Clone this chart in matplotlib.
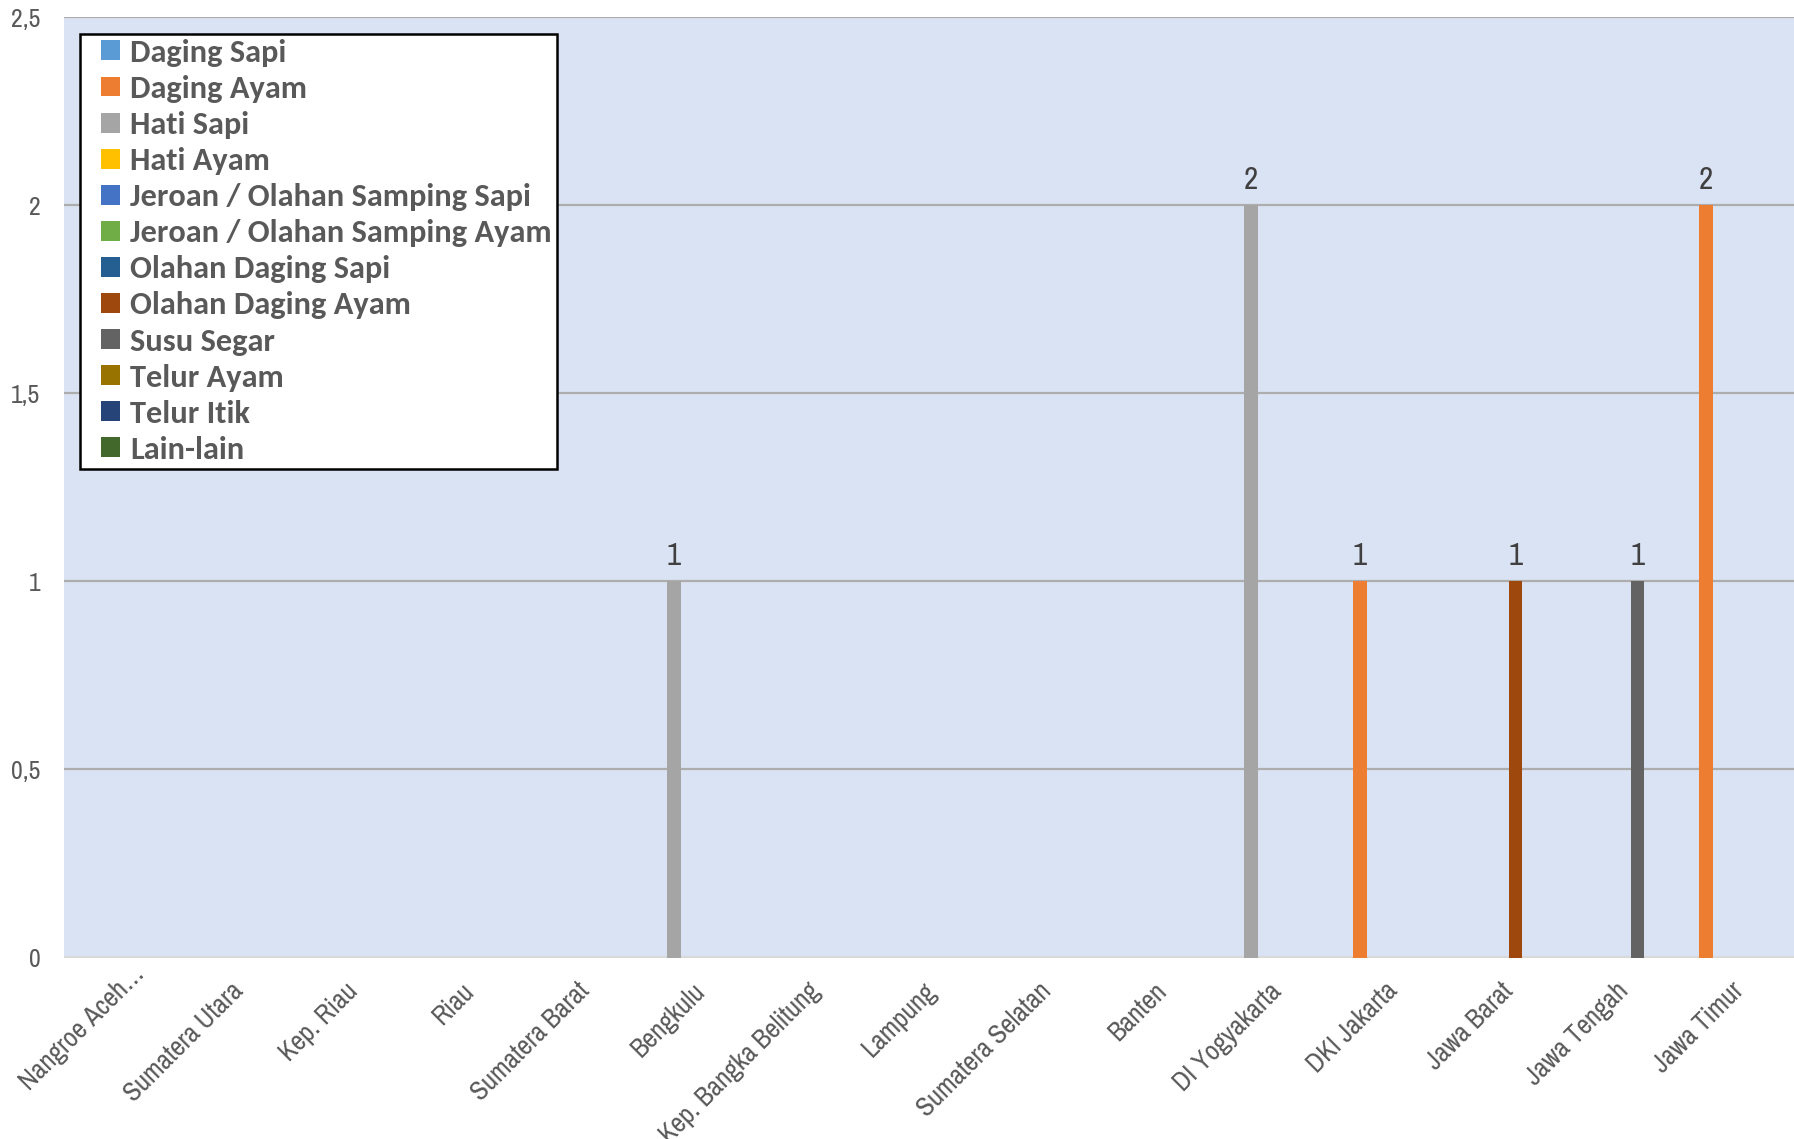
import numpy as np
import matplotlib
matplotlib.use("Agg")
import matplotlib.pyplot as plt
import matplotlib.font_manager as fm
import matplotlib.transforms as mtransforms
from matplotlib.patches import Patch, Rectangle
from matplotlib.legend_handler import HandlerPatch

# provinces (x axis)
provinces = ["Nangroe Aceh…", "Sumatera Utara", "Kep. Riau", "Riau", "Sumatera Barat",
             "Bengkulu", "Kep. Bangka Belitung", "Lampung", "Sumatera Selatan", "Banten",
             "DI Yogyakarta", "DKI Jakarta", "Jawa Barat", "Jawa Tengah", "Jawa Timur"]

series_names = ["Daging Sapi", "Daging Ayam", "Hati Sapi", "Hati Ayam",
                "Jeroan / Olahan Samping Sapi", "Jeroan / Olahan Samping Ayam",
                "Olahan Daging Sapi", "Olahan Daging Ayam", "Susu Segar",
                "Telur Ayam", "Telur Itik", "Lain-lain"]

colors = ["#5B9BD5", "#ED7D31", "#A5A5A5", "#FFC000", "#4472C4", "#70AD47",
          "#255E91", "#9E480E", "#636363", "#997300", "#264478", "#43682B"]

# one list per series, one value per province
daging_sapi     = [0, 0, 0, 0, 0, 0, 0, 0, 0, 0, 0, 0, 0, 0, 0]
daging_ayam     = [0, 0, 0, 0, 0, 0, 0, 0, 0, 0, 0, 1, 0, 0, 2]
hati_sapi       = [0, 0, 0, 0, 0, 1, 0, 0, 0, 0, 2, 0, 0, 0, 0]
hati_ayam       = [0, 0, 0, 0, 0, 0, 0, 0, 0, 0, 0, 0, 0, 0, 0]
jeroan_sapi     = [0, 0, 0, 0, 0, 0, 0, 0, 0, 0, 0, 0, 0, 0, 0]
jeroan_ayam     = [0, 0, 0, 0, 0, 0, 0, 0, 0, 0, 0, 0, 0, 0, 0]
olahan_sapi     = [0, 0, 0, 0, 0, 0, 0, 0, 0, 0, 0, 0, 0, 0, 0]
olahan_ayam     = [0, 0, 0, 0, 0, 0, 0, 0, 0, 0, 0, 0, 1, 0, 0]
susu_segar      = [0, 0, 0, 0, 0, 0, 0, 0, 0, 0, 0, 0, 0, 1, 0]
telur_ayam      = [0, 0, 0, 0, 0, 0, 0, 0, 0, 0, 0, 0, 0, 0, 0]
telur_itik      = [0, 0, 0, 0, 0, 0, 0, 0, 0, 0, 0, 0, 0, 0, 0]
lain_lain       = [0, 0, 0, 0, 0, 0, 0, 0, 0, 0, 0, 0, 0, 0, 0]

all_series = [daging_sapi, daging_ayam, hati_sapi, hati_ayam, jeroan_sapi, jeroan_ayam,
              olahan_sapi, olahan_ayam, susu_segar, telur_ayam, telur_itik, lain_lain]

yticks = [0, 0.5, 1, 1.5, 2, 2.5]
ytick_labels = ["0", "0,5", "1", "1,5", "2", "2,5"]

# pick a narrow sans (Arial Narrow look-alike) if one is installed
installed = set(f.name for f in fm.fontManager.ttflist)
narrow_font, scale = "Liberation Sans", 0.82
for name in ["Liberation Sans Narrow", "Arial Narrow", "Archivo Narrow", "PT Sans Narrow",
             "Roboto Condensed", "Sofia Sans Semi Condensed"]:
    if name in installed:
        narrow_font, scale = name, 1.0
        break
narrow = [narrow_font, "Liberation Sans", "DejaVu Sans"]
legend_font = "Carlito" if "Carlito" in installed else "Lato"
legend_size = 23.3 if legend_font == "Carlito" else 21.5


def square_handle(legend, orig_handle, xdescent, ydescent, width, height, fontsize):
    s = height
    return Rectangle((-xdescent + width - s, -ydescent), s, s)


W, H = 1794, 1139
fig = plt.figure(figsize=(W / 100, H / 100), dpi=100)
ax = fig.add_axes([64 / W, 1 - 957.5 / H, 1 - 64 / W, (957.5 - 17.2) / H])
ax.set_facecolor("#DAE3F3")

x = np.arange(len(provinces))
step = 0.058
width = 0.117
for k, vals in enumerate(all_series):
    pos = x + (k - 5.5) * step
    ax.bar(pos, vals, width=width, color=colors[k], linewidth=0, zorder=3)
    for p, v in zip(pos, vals):
        if v > 0:
            ax.annotate(str(v), (p, v), xytext=(0, 8), textcoords="offset points",
                        ha="center", va="bottom", fontsize=22.5 * scale, color="#404040",
                        family=narrow)

ax.set_xlim(-0.487, 14.5)
ax.set_ylim(0, 2.5)
ax.set_yticks(yticks)
ax.set_yticklabels(ytick_labels, family=narrow, fontsize=18.5 * scale, color="#595959")
ax.set_xticks(x - 0.048)
ax.set_xticklabels(provinces, rotation=45, ha="right", va="top", rotation_mode="anchor",
                   family=narrow, fontsize=19.5 * scale, color="#595959")
ax.tick_params(axis="both", length=0)
ax.tick_params(axis="y", pad=17)
ax.tick_params(axis="x", pad=15)

# the truncated first label sits a little further along its baseline
first = ax.get_xticklabels()[0]
first.set_transform(first.get_transform() +
                    mtransforms.ScaledTranslation(0.17, 0.17, fig.dpi_scale_trans))

ax.yaxis.grid(True, color="#ADADAD", linewidth=1.6, zorder=1)
ax.set_axisbelow(True)
for s in ax.spines.values():
    s.set_visible(False)
ax.axhline(0, color="#D9D9D9", linewidth=3, zorder=2)

handles = [Patch(facecolor=c, edgecolor="none") for c in colors]
leg = ax.legend(handles, series_names, loc="upper left",
                bbox_to_anchor=(80 / W, 1 - 34 / H), bbox_transform=fig.transFigure,
                prop={"family": legend_font, "weight": "bold", "size": legend_size},
                labelcolor="#595959", frameon=True, fancybox=False,
                edgecolor="black", facecolor="white", framealpha=1,
                handler_map={Patch: HandlerPatch(patch_func=square_handle)},
                handlelength=1.1, handleheight=0.57, handletextpad=0.3,
                labelspacing=0.25, borderpad=0.15, borderaxespad=0)
leg.get_frame().set_linewidth(1.8)

fig.savefig("out.png", dpi=100, facecolor="white")
